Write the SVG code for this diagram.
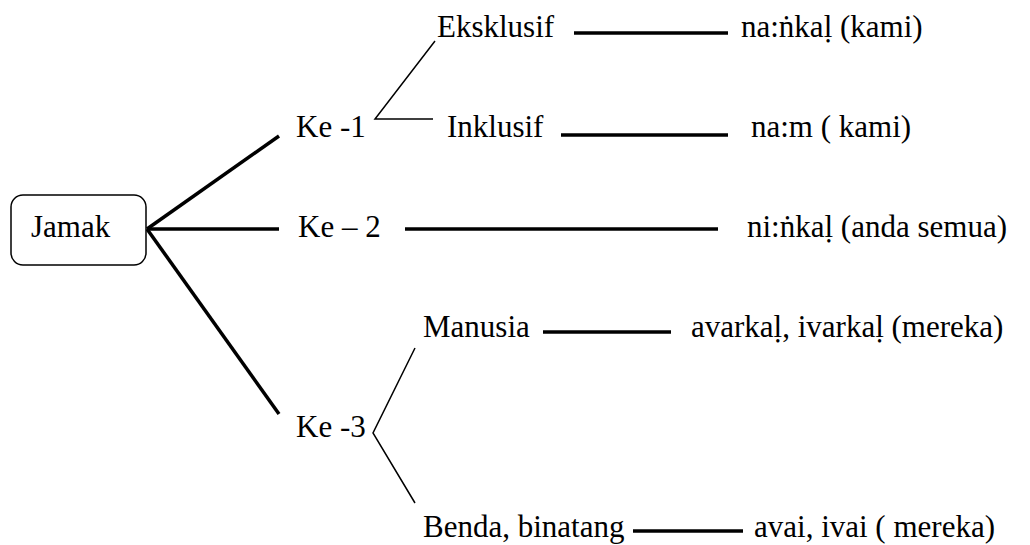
<svg xmlns="http://www.w3.org/2000/svg" width="1030" height="545" viewBox="0 0 1030 545">
  <style>
    text { font-family: "Liberation Serif", "DejaVu Serif", serif; font-size: 31px; fill: #000; }
    .thick { stroke: #000; stroke-width: 3.5; fill: none; }
    .thin { stroke: #000; stroke-width: 1.5; fill: none; }
  </style>
  <rect width="1030" height="545" fill="#fff"/>

  <g id="connectors">
    <!-- Jamak branches -->
    <line class="thick" x1="147" y1="229" x2="279" y2="136"/>
    <line class="thick" x1="147" y1="229" x2="279" y2="229"/>
    <line class="thick" x1="147" y1="229" x2="279" y2="414"/>
    <!-- Ke -1 split -->
    <polyline class="thin" points="435,41 375,119 433,119"/>
    <!-- Ke -3 split -->
    <polyline class="thin" points="415,348 373,433 415,503"/>
    <!-- links to forms -->
    <line class="thick" x1="574" y1="33" x2="728" y2="33"/>
    <line class="thick" x1="561" y1="135" x2="728" y2="135"/>
    <line class="thick" x1="405" y1="229" x2="718" y2="229"/>
    <line class="thick" x1="543" y1="332" x2="671" y2="332"/>
    <line class="thick" x1="633" y1="531" x2="743" y2="531"/>
  </g>

  <g id="jamak">
    <rect x="11" y="195" width="135" height="70" rx="12" ry="12" fill="#fff" stroke="#000" stroke-width="1.5"/>
    <text x="31" y="237">Jamak</text>
  </g>
  <g id="ke1"><text x="296" y="137">Ke -1</text></g>
  <g id="ke2"><text x="298" y="237">Ke – 2</text></g>
  <g id="ke3"><text x="296" y="437">Ke -3</text></g>
  <g id="eksklusif"><text x="437" y="37">Eksklusif</text></g>
  <g id="inklusif"><text x="447" y="137">Inklusif</text></g>
  <g id="manusia"><text x="423" y="337">Manusia</text></g>
  <g id="benda"><text x="423" y="537">Benda, binatang</text></g>
  <g id="nankal"><text x="741" y="37">na:ṅkaḷ (kami)</text></g>
  <g id="nam"><text x="751" y="137">na:m ( kami)</text></g>
  <g id="ninkal"><text x="747" y="237">ni:ṅkaḷ (anda semua)</text></g>
  <g id="avarkal"><text x="691" y="337">avarkaḷ, ivarkaḷ (mereka)</text></g>
  <g id="avai"><text x="754" y="537">avai, ivai ( mereka)</text></g>
</svg>
